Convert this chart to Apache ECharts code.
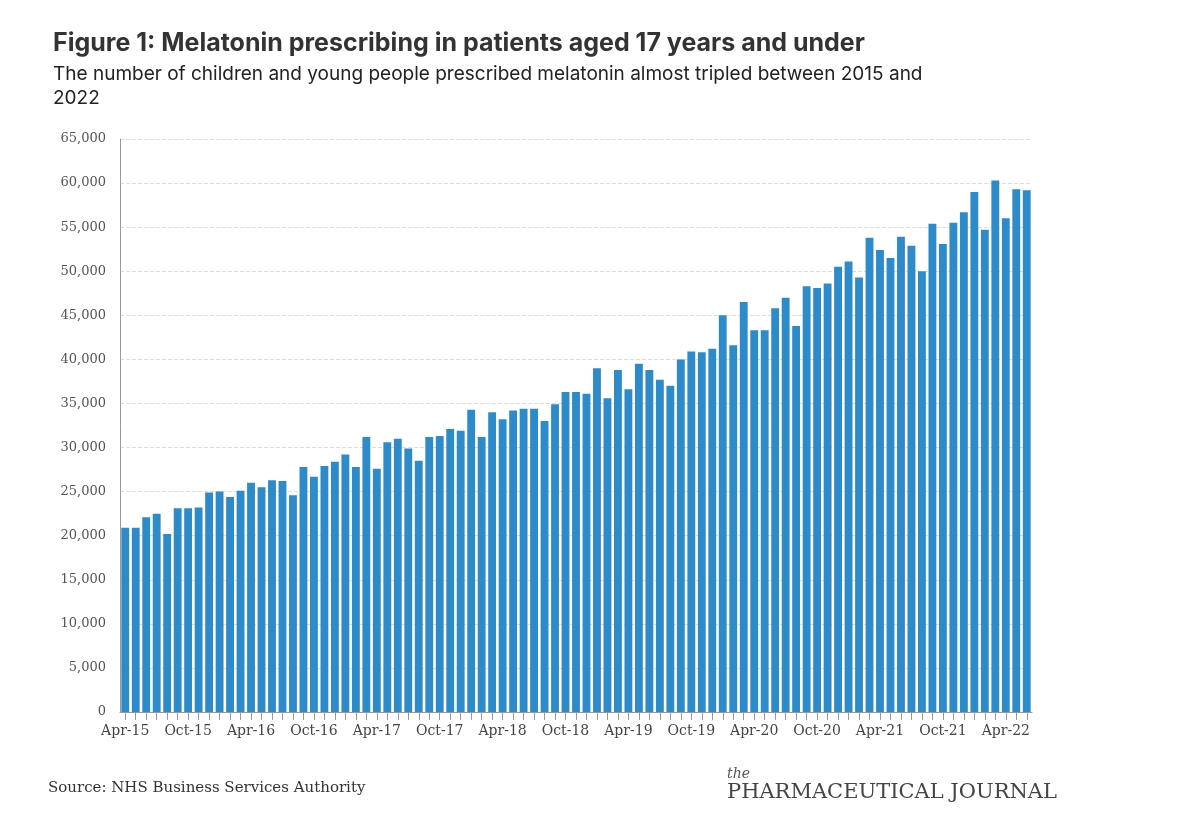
<!DOCTYPE html>
<html>
<head>
<meta charset="utf-8">
<script src="https://cdn.jsdelivr.net/npm/echarts@6/dist/echarts.min.js"></script>
<style>
  html, body { margin: 0; padding: 0; background: #fff; }
  #chart { width: 1200px; height: 818px; }
</style>
</head>
<body>
<div id="chart"></div>
<script>
var monthNames = ['Jan', 'Feb', 'Mar', 'Apr', 'May', 'Jun', 'Jul', 'Aug', 'Sep', 'Oct', 'Nov', 'Dec'];
var months = [];
for (var y = 2015; y <= 2022; y++) {
    for (var m = 0; m < 12; m++) {
        if (y === 2015 && m < 3) continue;
        if (y === 2022 && m > 5) continue;
        months.push(monthNames[m] + '-' + String(y).slice(2));
    }
}

// patients aged 17 and under prescribed melatonin, per month
var patients = [
    20900, 20900, 22100, 22500, 20200, 23100, 23100, 23200, 24900,
    25000, 24400, 25100, 26000, 25500, 26300, 26200, 24600, 27800, 26700, 27900, 28400,
    29200, 27800, 31200, 27600, 30600, 31000, 29900, 28500, 31200, 31300, 32100, 31900,
    34300, 31200, 34000, 33200, 34200, 34400, 34400, 33000, 34900, 36300, 36300, 36100,
    39000, 35600, 38800, 36600, 39500, 38800, 37700, 37000, 40000, 40900, 40800, 41200,
    45000, 41600, 46500, 43300, 43300, 45800, 47000, 43800, 48300, 48100, 48600, 50500,
    51100, 49300, 53800, 52400, 51500, 53900, 52900, 50000, 55400, 53100, 55500, 56700,
    59000, 54700, 60300, 56000, 59300, 59200
];

var myChart = echarts.init(document.getElementById('chart'));
var serif = '"DejaVu Serif", "Liberation Serif", serif';

var option = {
    backgroundColor: '#fff',
    animation: false,
    title: {
        text: 'Figure 1: Melatonin prescribing in patients aged 17 years and under',
        subtext: 'The number of children and young people prescribed melatonin almost tripled between 2015 and\n2022',
        left: 48,
        top: 26,
        itemGap: 6,
        textStyle: { fontFamily: 'Inter', fontWeight: 'bold', fontSize: 25, color: '#333' },
        subtextStyle: { fontFamily: 'Inter', fontSize: 19, color: '#222', lineHeight: 24 }
    },
    grid: { left: 120, right: 168, top: 139, bottom: 106 },
    xAxis: {
        type: 'category',
        data: months,
        axisLine: { lineStyle: { color: '#999' } },
        axisTick: { show: true, interval: 0, alignWithLabel: true, length: 8, lineStyle: { color: '#999' } },
        axisLabel: { interval: 5, fontFamily: serif, fontSize: 14, color: '#444', margin: 12 }
    },
    yAxis: {
        type: 'value',
        min: 0,
        max: 65000,
        interval: 5000,
        axisLine: { show: true, lineStyle: { color: '#999' } },
        splitLine: { lineStyle: { color: '#ddd', type: 'dashed' } },
        axisLabel: {
            fontFamily: serif, fontSize: 13, color: '#555', margin: 14,
            formatter: function (v) { return v.toLocaleString('en-US'); }
        }
    },
    series: [{
        type: 'bar',
        data: patients,
        barCategoryGap: '25%',
        itemStyle: { color: '#2e8bc9' }
    }],
    graphic: [
        {
            type: 'text', left: 48, top: 781,
            style: { text: 'Source: NHS Business Services Authority', font: '15px ' + serif, fill: '#333' }
        },
        {
            type: 'text', left: 727, top: 767,
            style: { text: 'the', font: 'italic 14px ' + serif, fill: '#555' }
        },
        {
            type: 'text', left: 727, top: 782,
            style: { text: 'PHARMACEUTICAL JOURNAL', font: '21px ' + serif, fill: '#444' }
        }
    ]
};
myChart.setOption(option);
window.addEventListener('resize', function () {
    myChart.resize();
});
</script>
</body>
</html>
